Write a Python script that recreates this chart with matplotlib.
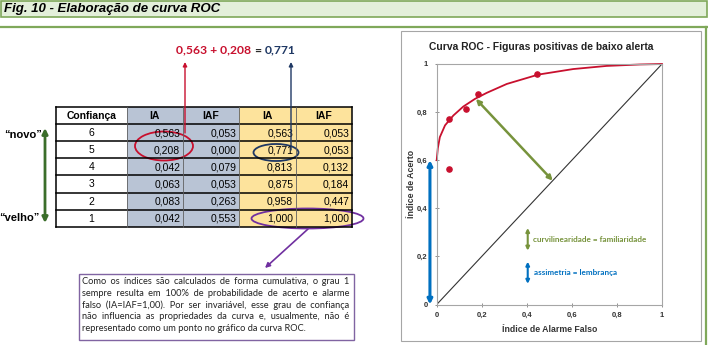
import matplotlib
matplotlib.use("Agg")
import matplotlib.pyplot as plt
from matplotlib.patches import Rectangle, Ellipse

# table values
conf = [6, 5, 4, 3, 2, 1]
ia = [0.563, 0.208, 0.042, 0.063, 0.083, 0.042]
iaf = [0.053, 0.000, 0.079, 0.053, 0.263, 0.553]
ia_cum = [0.563, 0.771, 0.813, 0.875, 0.958, 1.000]
iaf_cum = [0.053, 0.053, 0.132, 0.184, 0.447, 1.000]
headers = ["Confiança", "IA", "IAF", "IA", "IAF"]

# fitted ROC curve
curve_x = [0, 0.005, 0.014, 0.037, 0.074, 0.118, 0.17, 0.222, 0.311, 0.451, 0.606, 0.754, 0.902, 1.0]
curve_y = [0.6, 0.65, 0.696, 0.745, 0.786, 0.823, 0.855, 0.88, 0.917, 0.956, 0.979, 0.992, 0.998, 1.0]

ticks = [0, 0.2, 0.4, 0.6, 0.8, 1]

note_lines = [
    "Como os índices são calculados de forma cumulativa,  o grau 1",
    "sempre resulta em 100% de probabilidade de acerto e alarme",
    "falso (IA=IAF=1,00). Por ser invariável, esse grau de confiança",
    "não influencia as propriedades da curva e, usualmente, não é",
    "representado como um ponto no gráfico da curva ROC.",
]

RED = "#c8102e"
NAVY = "#1f3864"
PURPLE = "#7030a0"
GREEN = "#77933c"
DKGREEN = "#3b6e2a"
BLUE = "#0070c0"
ARIAL = "Liberation Sans"
CAL = "Lato"


def br(v, d=3):
    return f"{v:.{d}f}".replace(".", ",")


def arrow(axis, p0, p1, style, color, lw, ms, **kw):
    axis.annotate("", xy=p1, xytext=p0, arrowprops=dict(arrowstyle=style, color=color, lw=lw,
                  mutation_scale=ms, shrinkA=0, shrinkB=0), **kw)


fig = plt.figure(figsize=(7.08, 3.45), dpi=100)
ov = fig.add_axes([0, 0, 1, 1])
ov.set_xlim(0, 708)
ov.set_ylim(345, 0)
ov.axis("off")
renderer = fig.canvas.get_renderer()

# header band
ov.add_patch(Rectangle((0.5, 0.5), 706.5, 16.5, fc="#e3efda", ec="#7fa85a", lw=1.2))
ov.plot([0, 708], [27, 27], color="#7fa85a", lw=1.6)
ov.plot([705.5, 705.5], [27, 345], color="#7fa85a", lw=1.6)
ov.text(4, 9, "Fig. 10 - Elaboração de curva ROC", fontsize=9.5, weight="bold",
        style="italic", family=ARIAL, va="center")

# table
col_x = [56, 126.7, 182.7, 239.3, 295.7, 351.7]
col_bg = ["white", "#b9c4d5", "#b9c4d5", "#fde39c", "#fde39c"]
top, rh = 107, 17.1
cols = [ia, iaf, ia_cum, iaf_cum]
for r in range(7):
    y0 = top + r * rh
    for c in range(5):
        ov.add_patch(Rectangle((col_x[c], y0), col_x[c + 1] - col_x[c], rh,
                               fc=col_bg[c], ec="none"))
        yc = y0 + rh / 2 + 0.5
        if r == 0:
            ov.text((col_x[c] + col_x[c + 1]) / 2, yc, headers[c], ha="center", va="center",
                    fontsize=7.5, weight="bold", family=ARIAL)
        elif c == 0:
            ov.text((col_x[0] + col_x[1]) / 2, yc, str(conf[r - 1]), ha="center", va="center",
                    fontsize=7.5, family=ARIAL)
        else:
            ov.text(col_x[c + 1] - 2.5, yc, br(cols[c - 1][r - 1]), ha="right", va="center",
                    fontsize=7.5, family=ARIAL)
for r in range(8):
    ov.plot([col_x[0], col_x[-1]], [top + r * rh] * 2, color="black", lw=1.1)
for i, x in enumerate(col_x):
    ov.plot([x, x], [top, top + 7 * rh], color="black" if i in (0, 5) else "#606060",
            lw=1.1 if i in (0, 5) else 0.6)

# ellipses
ov.add_patch(Ellipse((164, 146), 58, 29, fc="none", ec=RED, lw=1.3))
ov.add_patch(Ellipse((276, 152.5), 45, 17, fc="none", ec=NAVY, lw=1.3))
ov.add_patch(Ellipse((307.5, 218.5), 112, 20, fc="none", ec=PURPLE, lw=1.3))

# pointers to the sum
arrow(ov, (185, 133), (185, 62), "-|>", RED, 1, 6)
arrow(ov, (291, 150), (291, 62), "-|>", NAVY, 1, 6)

x = 176.5
for s, col in [(br(ia[0]) + " + " + br(ia[1]), RED), (" = ", "#222222"), (br(ia_cum[1]), NAVY)]:
    t = ov.text(x, 50, s, color=col, fontsize=8.7, weight="bold", family=CAL, va="center")
    x += t.get_window_extent(renderer).width

# novo / velho arrow
arrow(ov, (45, 223), (45, 128), "<|-|>", DKGREEN, 2, 8)
ov.text(42, 135, "“novo”", ha="right", va="center", fontsize=8, weight="bold", family=ARIAL)
ov.text(40, 218, "“velho”", ha="right", va="center", fontsize=8, weight="bold", family=ARIAL)

# note box, justified with a mix of normal and hair spaces (one text per line)
arrow(ov, (308, 229), (265, 268), "-|>", PURPLE, 1.2, 7)
ov.add_patch(Rectangle((78.5, 273.5), 275.5, 66.5, fc="white", ec="#8064a2", lw=1))
x0, x1 = 82, 349.5
note_kw = dict(fontsize=6.7, family=[CAL, "DejaVu Sans"], va="baseline", color="#222222")


def tw(s):
    t = ov.text(0, 0, s, **note_kw)
    w = t.get_window_extent(renderer).width
    t.remove()
    return w


base = tw("aa")
w_sp = tw("a a") - base
w_hair = tw("a\u200aa") - base
for i, line in enumerate(note_lines):
    yl = 284 + i * 11.8
    words = line.split()
    if i == len(note_lines) - 1:
        ov.text(x0, yl, " ".join(words), **note_kw)
        continue
    widths = [tw(w) for w in words]
    gap = (x1 - x0 - sum(widths)) / (len(words) - 1)
    s = words[0]
    for j in range(1, len(words)):
        need = sum(widths[:j]) + j * gap - (tw(s + "a") - tw("a"))
        best = min(((k, m) for k in range(1, 6) for m in range(0, 10)),
                   key=lambda km: abs(km[0] * w_sp + km[1] * w_hair - need))
        s += " " * best[0] + "\u200a" * best[1] + words[j]
    ov.text(x0, yl, s, **note_kw)

# ROC panel
ov.add_patch(Rectangle((401, 30.5), 300, 310.5, fc="white", ec="#a6a6a6", lw=0.8))
ov.text(541, 47.5, "Curva ROC - Figuras positivas de baixo alerta", ha="center", va="center",
        fontsize=7.4, weight="bold", family=ARIAL, color="#222222")

ax = fig.add_axes([436.7 / 708, 1 - 304.5 / 345, (662 - 436.7) / 708, (304.5 - 64) / 345])
ax.set_xlim(0, 1)
ax.set_ylim(0, 1)
ax.patch.set_alpha(0)
for sp in ax.spines.values():
    sp.set_color("#a6a6a6")
    sp.set_linewidth(0.8)
ax.set_xticks(ticks)
ax.set_yticks(ticks)
lab = [br(t, 1) if 0 < t < 1 else str(int(t)) for t in ticks]
ax.set_xticklabels(lab, fontsize=5.5, weight="bold", family=ARIAL, color="#333333")
ax.set_yticklabels(lab, fontsize=5.5, weight="bold", family=ARIAL, color="#333333")
ax.tick_params(direction="inout", length=3, width=0.6, color="#808080")
ax.tick_params(axis="x", pad=4)
ax.tick_params(axis="y", pad=5)
ax.set_xlabel("Índice de Alarme Falso", fontsize=6.3, weight="bold", family=ARIAL,
              color="#333333", labelpad=4)
ax.set_ylabel("Índice de Acerto", fontsize=6.3, weight="bold", family=ARIAL,
              color="#333333", labelpad=1)

ax.plot([0, 1], [0, 1], color="#333333", lw=0.8)
ax.plot(curve_x, curve_y, color=RED, lw=1.3, clip_on=False)
ax.scatter(iaf_cum[:5], ia_cum[:5], s=14, color=RED, zorder=3)

arrow(ax, (0.515, 0.515), (0.174, 0.855), "<|-|>", GREEN, 1.8, 7)
arrow(ax, (-0.03, 0.0), (-0.03, 0.6), "<|-|>", BLUE, 2.2, 7, annotation_clip=False)

arrow(ax, (0.404, 0.224), (0.404, 0.318), "<|-|>", GREEN, 1.5, 5)
ax.text(0.428, 0.271, "curvilinearidade = familiaridade", color=GREEN, fontsize=5.9,
        weight="bold", family=CAL, va="center")
arrow(ax, (0.404, 0.086), (0.404, 0.178), "<|-|>", BLUE, 1.5, 5)
ax.text(0.43, 0.134, "assimetria = lembrança", color=BLUE, fontsize=5.9,
        weight="bold", family=CAL, va="center")

fig.savefig("out.png", dpi=100)
